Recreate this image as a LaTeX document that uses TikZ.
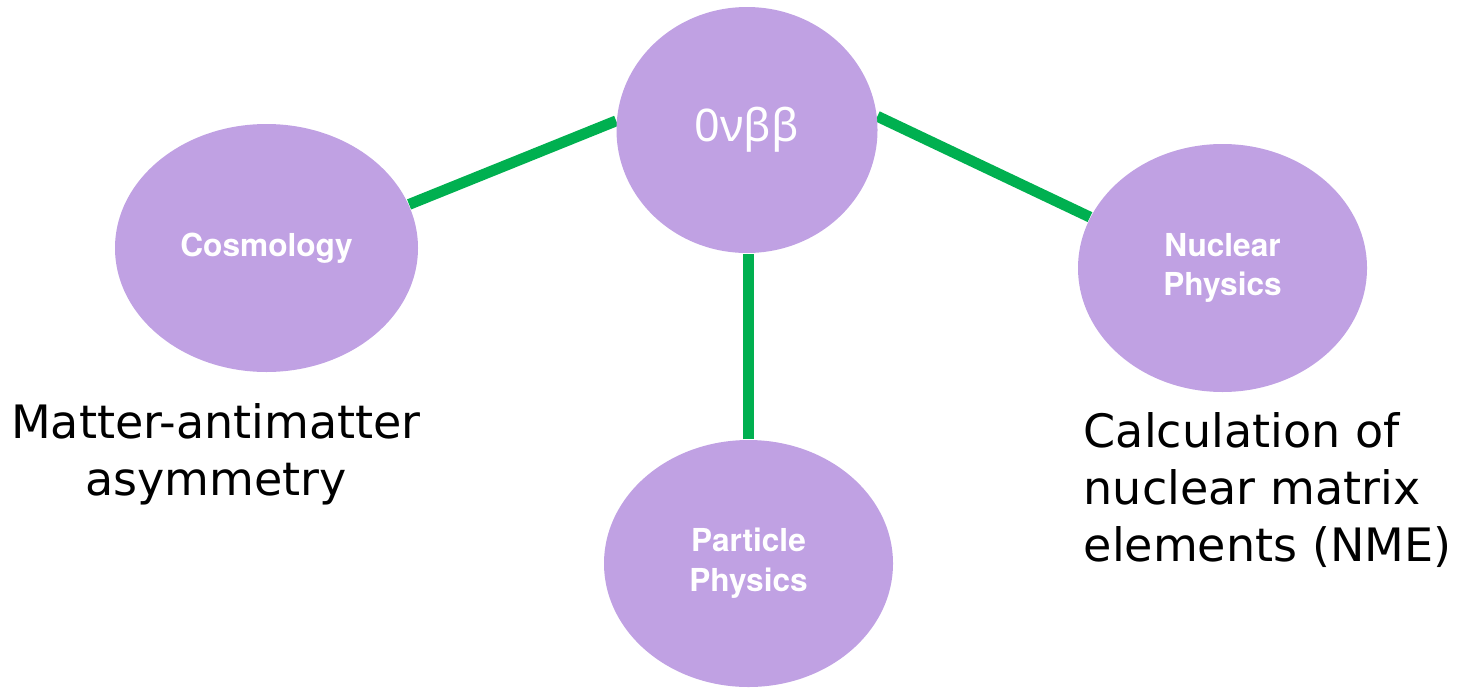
\documentclass[tikz,border=0pt]{standalone}
\usepackage{fontspec}
\setmainfont{DejaVu Sans}
\newfontfamily\headfont{TeX Gyre Heros}
\newfontfamily\greekfont{Noto Sans}
\usepackage{tikz}
\usetikzlibrary{shapes,positioning,backgrounds}
\definecolor{lavender}{RGB}{192,161,227}
\definecolor{linkgreen}{RGB}{0,176,80}
\tikzset{
  topic/.style={ellipse, fill=lavender, text=white, inner sep=0pt, align=center, font=\headfont\bfseries\fontsize{9}{11.3}\selectfont},
  link/.style={draw=linkgreen, line width=3.1pt},
  note/.style={text=black, inner sep=0pt, font=\fontsize{13.1}{16.2}\selectfont}
}

\begin{document}
\begin{tikzpicture}
\useasboundingbox (0,0) rectangle (14.64,-6.87);
\node[topic, minimum width=2.61cm, minimum height=2.46cm, font=\greekfont\fontsize{12.8}{15}\selectfont] (nbb) at (7.47,-1.30) {0νββ};
\node[topic, minimum width=3.03cm, minimum height=2.48cm] (cos) at (2.665,-2.48) {Cosmology};
\node[topic, minimum width=2.89cm, minimum height=2.48cm] (nuc) at (12.225,-2.68) {Nuclear\\Physics};
\node[topic, minimum width=2.89cm, minimum height=2.47cm] (part) at (7.485,-5.635) {Particle\\Physics};
%==========
\node[note, align=center] (matter) at (2.16,-4.54) {Matter-antimatter\\asymmetry};
\node[note, align=left, anchor=north west] (nme) at (10.83,-4.12) {Calculation of\\nuclear matrix\\elements (NME)};
%==========
\begin{scope}[on background layer]
  \draw[link] (cos.17) -- (nbb.176);
  \draw[link] (nbb.6) -- (nuc.159);
  \draw[link] (part.north) -- (part.north |- nbb.south);
\end{scope}
\end{tikzpicture}
\end{document}
